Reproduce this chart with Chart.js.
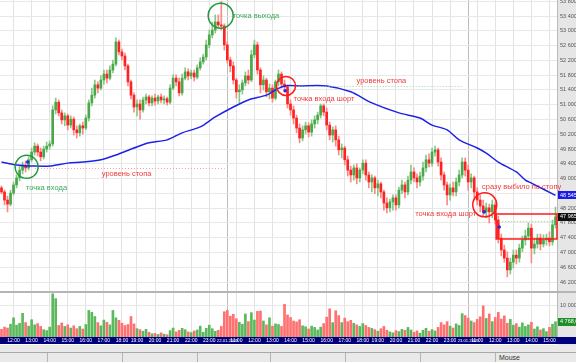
<!DOCTYPE html>
<html>
<head>
<meta charset="utf-8">
<script src="https://cdn.jsdelivr.net/npm/chart.js@4.4.1/dist/chart.umd.min.js"></script>
<style>
  body { margin: 0; background: #fff; }
  #wrap { position: relative; width: 576px; height: 362px; overflow: hidden; font-family: 'Liberation Sans', Arial, sans-serif; }
  #priceChart { position: absolute; left: 0; top: 0; }
  #sep { position: absolute; left: 0; top: 291px; width: 576px; height: 2px; background: #b5b5b5; }
  #volChart { position: absolute; left: 0; top: 293px; }
  #status { position: absolute; left: 0; top: 345px; width: 576px; height: 17px; background: #e9e9e9; }
  #status .line { position: absolute; left: 0; top: 7px; width: 576px; height: 1px; background: #a8a8a8; }
  #status .div { position: absolute; top: 8px; width: 1px; height: 9px; background: #b4b4b4; }
  #status .txt { position: absolute; left: 499px; top: 9px; font-size: 7px; color: #333; }
</style>
</head>
<body>
<div id="wrap">
  <canvas id="priceChart" width="576" height="291"></canvas>
  <div id="sep"></div>
  <canvas id="volChart" width="576" height="52"></canvas>
  <div id="status">
    <div class="line"></div>
    <div class="div" style="left:47px"></div>
    <div class="div" style="left:122px"></div>
    <div class="div" style="left:197px"></div>
    <div class="div" style="left:270px"></div>
    <div class="div" style="left:345px"></div>
    <div class="div" style="left:420px"></div>
    <div class="div" style="left:495px"></div>
    <div class="txt">Mouse</div>
  </div>
</div>
<script>
// торговые сессии: день, первая и последняя 10-минутная свеча
const sessions = [
  ['21.01.2009', '11:20', '23:50'],
  ['22.01.2009', '10:30', '23:50'],
  ['23.01.2009', '10:30', '15:20']
];
const breakSlot = '18:50'; // перерыв вечерней сессии

const open = [48750,48640,48420,48310,48610,48830,49020,49230,49340,49290,
  49510,49720,49880,49720,49590,49800,49880,49940,50860,51070,
  50780,50590,50700,50450,50610,50320,50240,50430,50370,50640,
  51050,51260,51540,51450,51670,51830,51720,51940,52100,52700,
  52430,52320,52050,51620,51260,50940,51020,50860,51130,51210,
  51050,51180,51100,51210,51130,51160,51070,51450,51720,51620,
  51320,51720,51890,51780,51860,51750,52000,52160,52290,52620,
  52890,53020,53240,53160,53130,52620,52210,52050,51670,51350,
  51400,51590,51780,51670,52350,52620,51940,51540,51670,51350,
  51450,51180,51620,51830,51560,51480,51020,50860,50640,50370,
  50100,50320,50430,50260,50480,50590,50720,50970,50800,50450,
  50180,50320,50050,49780,49830,49510,49230,49100,49290,49020,
  49230,49420,49100,48910,49020,48750,48860,48640,48340,48210,
  48370,48480,48290,48690,48830,48640,48960,49180,49020,48910,
  49070,49290,49510,49420,49720,49780,49450,49100,48830,48560,
  48750,48640,48910,49100,49450,49230,48910,49020,48640,48420,
  48260,48100,48210,48100,48290,47880,47390,47070,46850,46530,
  46740,46930,46850,47120,47340,47450,47660,47120,47230,47390,
  47230,47340,47390,47290,47750];

const high = [48800,48690,48530,48690,48910,49100,49340,49450,49480,49590,
  49830,49970,49940,49830,49880,49990,50020,50970,51180,51130,
  50860,50780,50750,50700,50670,50430,50480,50530,50720,51130,
  51450,51670,51620,51780,51940,51940,52050,52210,52810,52750,
  52510,52400,52100,51670,51320,51130,51130,51210,51290,51260,
  51240,51290,51260,51290,51240,51210,51540,51810,51810,51720,
  51830,52000,51970,51940,51940,52080,52270,52370,52750,53020,
  53240,53430,53430,53800,53190,52700,52290,52160,51720,51540,
  51670,51890,51940,52480,52750,52700,52000,51780,51720,51560,
  51540,51670,51940,51890,51670,51540,51130,50970,50720,50480,
  50430,50530,50510,50590,50700,50800,51020,51020,50910,50530,
  50400,50430,50150,49940,49880,49610,49340,49370,49400,49290,
  49510,49510,49180,49100,49070,48960,48910,48690,48480,48450,
  48560,48560,48770,48960,48910,49070,49370,49290,49130,49180,
  49450,49640,49670,49830,49880,49830,49560,49180,48910,48860,
  48910,49020,49230,49560,49560,49370,49130,49070,48750,48560,
  48420,48340,48310,48420,48370,47990,47500,47200,47020,46850,
  47070,47070,47230,47450,47610,47800,47770,47390,47500,47500,
  47480,47500,47560,47880,48230];

const low = [48590,48290,48100,48260,48560,48750,48940,49130,49180,49230,
  49450,49640,49610,49480,49530,49720,49800,49880,50750,50700,
  50480,50430,50320,50370,50180,50100,50150,50210,50320,50560,
  50970,51180,51320,51400,51560,51590,51670,51860,52050,52350,
  52210,51940,51510,51160,50800,50700,50610,50800,51020,50970,
  50970,50990,51020,51050,51020,50990,51020,51400,51510,51240,
  51260,51670,51670,51700,51640,51700,51940,52100,52210,52540,
  52810,52940,53080,53020,52480,52130,51890,51560,51180,51050,
  51290,51510,51560,51620,52270,51830,51320,51400,51210,51160,
  51070,51130,51510,51450,51400,50910,50720,50480,50240,49970,
  50020,50210,50130,50150,50370,50480,50640,50700,50320,50050,
  49990,49880,49640,49560,49370,49070,48910,48960,48860,48910,
  49130,48960,48750,48640,48590,48530,48480,48150,48070,48100,
  48150,48150,48210,48590,48480,48560,48860,48910,48750,48800,
  48960,49180,49320,49340,49610,49340,48960,48690,48290,48420,
  48530,48530,48800,49020,49070,48690,48750,48480,48290,48100,
  47990,47940,47800,47940,47770,47260,46910,46740,46340,46420,
  46580,46690,46740,47020,47200,47340,46720,46960,47120,47070,
  47150,47200,47180,47200,47660];

const close = [48640,48420,48310,48610,48830,49020,49230,49340,49290,49510,
  49720,49880,49720,49590,49800,49880,49940,50860,51070,50780,
  50590,50700,50450,50610,50320,50240,50430,50370,50640,51050,
  51260,51540,51450,51670,51830,51720,51940,52100,52700,52430,
  52320,52050,51620,51260,50940,51020,50860,51130,51210,51050,
  51180,51100,51210,51130,51160,51070,51450,51720,51620,51320,
  51720,51890,51780,51860,51750,52000,52160,52290,52620,52890,
  53020,53240,53160,53130,52620,52210,52050,51670,51350,51400,
  51590,51780,51670,52350,52620,51940,51540,51670,51350,51450,
  51180,51620,51830,51560,51480,51020,50860,50640,50370,50100,
  50320,50430,50260,50480,50590,50720,50970,50800,50450,50180,
  50320,50050,49780,49830,49510,49230,49100,49290,49020,49230,
  49420,49100,48910,49020,48750,48860,48640,48340,48210,48370,
  48480,48290,48690,48830,48640,48960,49180,49020,48910,49070,
  49290,49510,49420,49720,49780,49450,49100,48830,48560,48750,
  48640,48910,49100,49450,49230,48910,49020,48640,48420,48260,
  48100,48210,48100,48290,47880,47390,47070,46850,46530,46740,
  46930,46850,47120,47340,47450,47660,47120,47230,47390,47230,
  47340,47390,47290,47750,47965];

const volume = [2400,3100,2800,4000,6000,3700,4300,7400,4500,3400,
  5400,3800,4200,3300,2300,2000,3100,13500,12000,3600,
  4400,3300,3800,2800,3500,2600,3300,2500,3900,8300,
  7700,6400,4500,3500,5300,4600,3800,8300,6000,5200,
  4300,3600,3900,6400,4100,2600,2300,1800,2400,1500,
  1000,1100,800,1300,900,700,2000,2800,1600,2100,
  2700,2300,1600,1400,1900,2200,3400,1500,2700,3700,
  2600,1800,2100,3300,7900,8300,6500,7100,5700,4600,
  4000,7200,4800,7600,5300,8000,8100,5000,3800,6000,
  3400,4100,3900,3300,10200,6900,6100,5000,4700,5400,
  3500,3200,2500,3400,3000,2200,3100,4200,6200,8800,
  4500,8200,6700,4500,5900,4800,5200,4300,3800,3300,
  4200,3600,3000,2700,2300,1800,2600,3300,2100,1600,
  1300,2000,1700,2400,2100,3000,2200,1500,1900,1200,
  2100,2700,1800,2300,1900,3000,4500,3800,4800,3400,
  2800,4100,3600,7300,6700,5900,5000,4500,5500,6300,
  9700,5800,7200,4800,6100,7700,5600,6600,4300,5500,
  3700,4200,3100,4400,3300,3800,4600,2500,3200,2200,
  2600,1700,3000,4000,4768];

const maAt     = [0, 5, 11, 16, 22, 27, 33, 38, 44, 49, 55, 60, 66, 71, 77, 82, 88, 91, 94, 99,
                  108, 116, 123, 132, 139, 143, 148, 152, 158, 161, 165, 171, 174, 176, 184];
const maValues = [49450, 49370, 49340, 49340, 49420, 49450, 49510, 49640, 49830, 49970, 50050, 50240,
                  50400, 50670, 50940, 51130, 51260, 51400, 51510, 51510, 51510, 51350, 51050, 50780,
                  50640, 50450, 50320, 50050, 49830, 49690, 49450, 49180, 48960, 48880, 48545];

const priceTicks = [53800,53600,53400,53200,53000,52800,52600,52400,52200,52000,
  51800,51600,51400,51200,51000,50800,50600,50400,50200,50000,
  49800,49600,49400,49200,49000,48800,48600,48400,48200,48000,
  47800,47600,47400,47200,47000,46800,46600,46400,46200];
const volumeTicks = [10000];

// --- подписи времени ---
const toMin = s => { const [h, m] = s.split(':').map(Number); return h * 60 + m; };
const hhmm = m => String(Math.floor(m / 60)).padStart(2, '0') + ':' + String(m % 60).padStart(2, '0');
const times = [], tickText = [], gridKind = [];
sessions.forEach(([day, from, to], d) => {
  for (let m = toMin(from); m <= toMin(to); m += 10) {
    const t = hhmm(m);
    if (t === breakSlot) continue;
    times.push(day + ' ' + t);
    if (m === toMin(from) && d > 0) { tickText.push(day); gridKind.push(2); }
    else if (m % 60 === 0) { tickText.push(t); gridKind.push(1); }
    else { tickText.push(''); gridKind.push(0); }
  }
});

const maSeries = times.map(() => null);
maAt.forEach((idx, k) => { maSeries[idx] = maValues[k]; });

const isUp = close.map((c, i) => c >= open[i]);
const fmt = v => String(Math.round(v)).replace(/\B(?=(\d{3})+(?!\d))/g, ' ');
const gridColor = ctx => ['rgba(0,0,0,0)', '#e3e3e3', '#bcbcbc'][gridKind[ctx.index]] || 'rgba(0,0,0,0)';

// --- пометки на графике (номер свечи, цена) ---
const GREEN = '#1f9a3c', RED = '#ff1a1a';
const circles = [
  { i: 8.35, p: 49320, r: 11.5, color: GREEN },
  { i: 72.8, p: 53410, r: 12.5, color: GREEN },
  { i: 94.5, p: 51510, r: 9.5, color: RED },
  { i: 160.5, p: 48290, r: 12, color: RED }
];
const labels = [
  { text: 'точка входа', i: 8.1, p: 48750, color: '#3aa95a' },
  { text: 'уровень стопа', i: 33.3, p: 49130, color: '#f03a3a' },
  { text: 'точка выхода', i: 76.8, p: 53400, color: '#3aa95a' },
  { text: 'уровень стопа', i: 117.9, p: 51640, color: '#f03a3a' },
  { text: 'точка входа шорт', i: 97, p: 51160, color: '#f03a3a' },
  { text: 'точка входа шорт', i: 137.4, p: 48040, color: '#f03a3a' },
  { text: 'сразу выбило по стопу', i: 159.6, p: 48775, color: '#f03a3a' }
];
const levels = [
  { from: 11.1, to: 74.1, p: 49280, color: '#ff9a9a' },
  { from: 95.7, to: 153.3, p: 51516, color: '#9ed69e' },
  { from: 165.3, to: 184.5, p: 47854, color: '#9ed69e' }
];
const boxes = [{ from: 164.3, to: 184.5, top: 48043, bottom: 47367, color: RED }];
const tradeDots = [
  { i: 8.7, p: 49450 }, { i: 94.2, p: 51380 }, { i: 160.3, p: 48100 }, { i: 165.3, p: 47690 }
];

function axisBox(ctx, chart, yPix, text, bg) {
  const a = chart.chartArea;
  ctx.fillStyle = bg;
  ctx.fillRect(a.right + 1, Math.round(yPix - 4), chart.width - a.right - 1, 8);
  ctx.fillStyle = '#fff';
  ctx.font = '5.5px "Liberation Sans", Arial';
  ctx.textBaseline = 'middle';
  ctx.textAlign = 'left';
  ctx.fillText(text, a.right + 3, yPix);
}

const axisBg = {
  id: 'axisBg',
  beforeDraw(chart) {
    const { ctx, chartArea: a } = chart;
    ctx.save();
    ctx.fillStyle = '#e6e6e6';
    ctx.fillRect(a.right, 0, chart.width - a.right, chart.height);
    ctx.fillStyle = '#b9b9b9';
    ctx.fillRect(a.right, 0, 1, a.bottom);
    ctx.restore();
  }
};

const notes = {
  id: 'notes',
  afterDatasetsDraw(chart) {
    const { ctx, scales: { x, y } } = chart;
    const X = v => x.getPixelForValue(v), Y = v => y.getPixelForValue(v);
    ctx.save();
    ctx.lineWidth = 1;
    ctx.setLineDash([1, 2]);
    levels.forEach(l => {
      ctx.strokeStyle = l.color;
      ctx.beginPath();
      ctx.moveTo(X(l.from), Math.round(Y(l.p)) + 0.5);
      ctx.lineTo(X(l.to), Math.round(Y(l.p)) + 0.5);
      ctx.stroke();
    });
    ctx.setLineDash([]);
    ctx.lineWidth = 1.5;
    boxes.forEach(b => {
      ctx.strokeStyle = b.color;
      ctx.strokeRect(X(b.from), Y(b.top), X(b.to) - X(b.from), Y(b.bottom) - Y(b.top));
    });
    circles.forEach(c => {
      ctx.strokeStyle = c.color;
      ctx.beginPath();
      ctx.arc(X(c.i), Y(c.p), c.r, 0, Math.PI * 2);
      ctx.stroke();
    });
    ctx.fillStyle = '#2a2ae0';
    tradeDots.forEach(d => {
      ctx.beginPath();
      ctx.arc(X(d.i), Y(d.p), 1.8, 0, Math.PI * 2);
      ctx.fill();
    });
    ctx.font = '7.5px "Liberation Sans", Arial';
    ctx.textBaseline = 'middle';
    labels.forEach(t => {
      ctx.fillStyle = t.color;
      ctx.fillText(t.text, X(t.i), Y(t.p));
    });
    ctx.restore();
  },
  afterDraw(chart) {
    const { ctx, scales: { y } } = chart;
    ctx.save();
    axisBox(ctx, chart, y.getPixelForValue(maValues[maValues.length - 1]), fmt(maValues[maValues.length - 1]), '#1c1ce6');
    axisBox(ctx, chart, y.getPixelForValue(close[close.length - 1]), fmt(close[close.length - 1]), '#111');
    ctx.restore();
  }
};

const navyBand = {
  id: 'navyBand',
  beforeDraw(chart) {
    const { ctx, chartArea: a } = chart;
    ctx.save();
    ctx.fillStyle = '#00007f';
    ctx.fillRect(0, a.bottom, chart.width, 7);
    ctx.restore();
  },
  afterDraw(chart) {
    const { ctx, scales: { y } } = chart;
    const last = volume[volume.length - 1];
    ctx.save();
    axisBox(ctx, chart, y.getPixelForValue(last), fmt(last) + ',00', '#1f8f2a');
    ctx.restore();
  }
};

const tickFont = { size: 5.5, family: "'Liberation Sans', Arial" };

new Chart(document.getElementById('priceChart'), {
  type: 'bar',
  data: {
    labels: times,
    datasets: [
      {
        type: 'line',
        data: maSeries,
        borderColor: '#1e22e6',
        borderWidth: 1.5,
        pointRadius: 0,
        spanGaps: true,
        tension: 0.3,
        order: 0
      },
      {
        data: open.map((o, i) => [o, close[i]]),
        backgroundColor: isUp.map(u => u ? '#4aa84a' : '#ff2222'),
        barThickness: 2,
        grouped: false,
        order: 1
      },
      {
        data: low.map((l, i) => [l, high[i]]),
        backgroundColor: isUp.map(u => u ? '#86c986' : '#ff8686'),
        barThickness: 1,
        grouped: false,
        order: 2
      }
    ]
  },
  options: {
    responsive: false,
    animation: false,
    events: [],
    layout: { padding: 0 },
    plugins: { legend: { display: false }, tooltip: { enabled: false } },
    scales: {
      x: {
        offset: true,
        grid: { offset: false, color: gridColor, drawTicks: false },
        border: { display: false },
        ticks: { display: false },
        afterFit: s => { s.height = 0; s.paddingLeft = 0; s.paddingRight = 0; }
      },
      y: {
        position: 'right',
        min: 45959,
        max: 53835,
        afterBuildTicks: s => { s.ticks = priceTicks.map(v => ({ value: v })); },
        grid: { color: '#e8e8e8', drawTicks: false },
        border: { display: false },
        ticks: { font: tickFont, color: '#555', padding: 3, callback: v => fmt(v) },
        afterFit: s => { s.width = 19; s.paddingTop = 0; s.paddingBottom = 0; }
      }
    }
  },
  plugins: [axisBg, notes]
});

new Chart(document.getElementById('volChart'), {
  type: 'bar',
  data: {
    labels: times,
    datasets: [{
      data: volume,
      backgroundColor: isUp.map(u => u ? '#5cb85c' : '#ff7070'),
      barThickness: 2
    }]
  },
  options: {
    responsive: false,
    animation: false,
    events: [],
    layout: { padding: 0 },
    plugins: { legend: { display: false }, tooltip: { enabled: false } },
    scales: {
      x: {
        offset: true,
        grid: { offset: false, color: gridColor, drawTicks: false },
        border: { display: false },
        ticks: {
          autoSkip: false, maxRotation: 0, minRotation: 0, padding: 1,
          font: ctx => ({ size: gridKind[ctx.index] === 2 ? 4.2 : 5, family: "'Liberation Sans', Arial" }),
          color: '#fff',
          callback: (v, i) => tickText[i]
        },
        afterFit: s => { s.height = 8; s.paddingLeft = 0; s.paddingRight = 0; }
      },
      y: {
        position: 'right',
        min: 0,
        max: 13750,
        afterBuildTicks: s => { s.ticks = volumeTicks.map(v => ({ value: v })); },
        grid: { color: '#e8e8e8', drawTicks: false },
        border: { display: false },
        ticks: { font: tickFont, color: '#555', padding: 3, callback: v => fmt(v) },
        afterFit: s => { s.width = 19; s.paddingTop = 0; s.paddingBottom = 0; }
      }
    }
  },
  plugins: [axisBg, navyBand]
});
</script>
</body>
</html>
